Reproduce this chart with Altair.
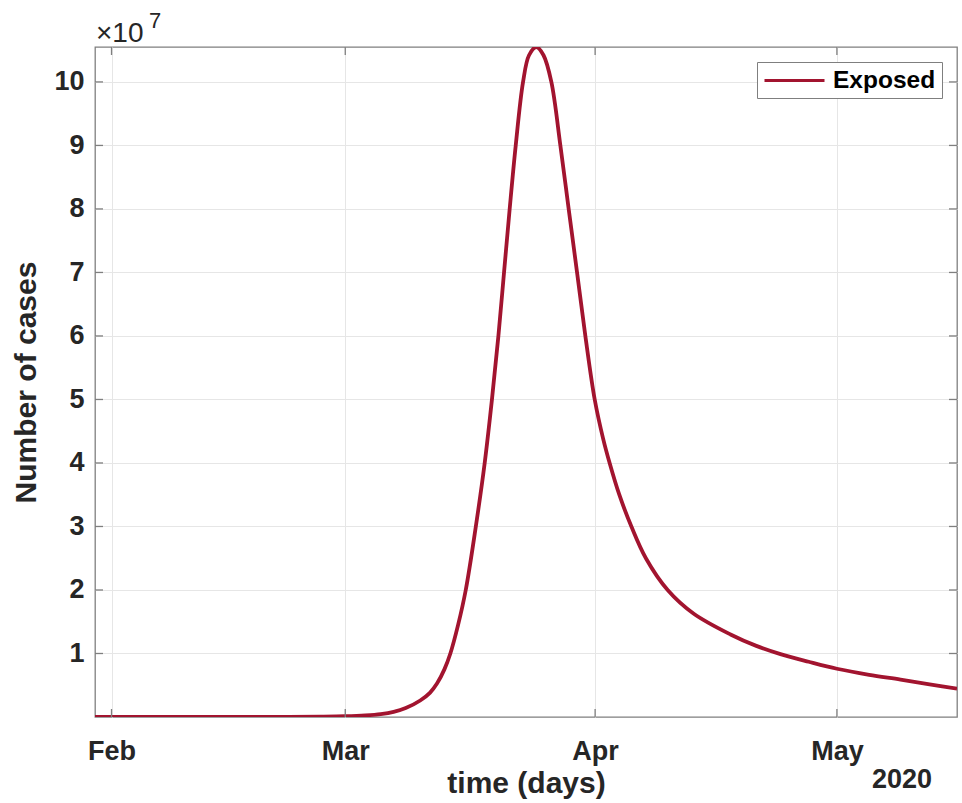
import altair as alt
import pandas as pd

# ---- data (days since 2020-02-01, Exposed in units of 1e7) ----
days_since_feb1 = [-2.05, 5, 15, 22, 26, 29, 31.5, 33.4, 35.0, 36.5, 38.3, 39.5, 40.4, 41.3,
                   42.04, 43.0, 43.95, 45.2, 46.3, 47.2, 48.0, 48.7, 49.4, 50.15, 51.06,
                   51.8, 52.71, 53.6, 54.57, 55.69, 56.72, 57.76, 58.79, 59.95, 61.0, 61.8,
                   63.0, 64.5, 66.3, 69.0, 72.2, 76.8, 80.0, 83.0, 86.5, 90.0, 94.0, 97.9,
                   101.5, 104.9]
exposed_1e7 = [0.0, 0.0005, 0.001, 0.003, 0.006, 0.012, 0.025, 0.045, 0.08, 0.14, 0.26, 0.38,
               0.53, 0.75, 1.0, 1.45, 2.0, 3.0, 4.0, 5.0, 6.0, 7.0, 8.0, 9.0, 10.0, 10.42,
               10.55, 10.42, 10.0, 9.0, 8.0, 7.0, 6.0, 5.0, 4.38, 4.0,
               3.5, 3.0, 2.5, 2.0, 1.63, 1.30, 1.12, 0.99, 0.87, 0.76, 0.665, 0.59,
               0.515, 0.445]
series_name = "Exposed"
month_ticks = ["2020-02-01", "2020-03-01", "2020-04-01", "2020-05-01"]
y_ticks_1e7 = [1, 2, 3, 4, 5, 6, 7, 8, 9, 10]
y_max_1e7 = 10.55
exponent_base = "×10"
exponent_power = "7"
year_label = "2020"

LINE_COLOR = "#A2142F"
BOX = "#7f7f7f"
FONT = "Liberation Sans"
W, H = 862, 670

base = pd.Timestamp("2020-02-01")
df = pd.DataFrame({
    "date": [(base + pd.to_timedelta(d, unit="D")).strftime("%Y-%m-%dT%H:%M:%S") for d in days_since_feb1],
    "cases": [v * 1e7 for v in exposed_1e7],
    "series": [series_name] * len(days_since_feb1),
})
ticks_x = pd.DataFrame({"date": [m + "T00:00:00" for m in month_ticks]})
ticks_y = pd.DataFrame({"cases": [v * 1e7 for v in y_ticks_1e7]})

x_scale = alt.Scale(domain=[alt.DateTime(year=2020, month=1, date=29, hours=22, minutes=48),
                            alt.DateTime(year=2020, month=5, date=15, hours=21, minutes=36)])
y_scale = alt.Scale(domain=[0, y_max_1e7 * 1e7], nice=False, zero=False)

x_axis = alt.Axis(
    values=[alt.DateTime(year=2020, month=int(m[5:7]), date=1) for m in month_ticks],
    format="%b", labelFontSize=27, labelFontWeight="bold", labelFont=FONT, labelColor="#262626",
    tickSize=0, labelPadding=21, domain=False, grid=True, gridColor="#e6e6e6", gridWidth=1,
    title="time (days)", titleFontSize=30, titleFontWeight="bold", titleFont=FONT,
    titleColor="#262626", titlePadding=4, labelFlush=False,
)
y_axis = alt.Axis(
    values=[v * 1e7 for v in y_ticks_1e7],
    labelExpr="format(datum.value / 10000000, 'd')",
    labelFontSize=27, labelFontWeight="bold", labelFont=FONT, labelColor="#262626",
    tickSize=0, labelPadding=11, domain=False, grid=True, gridColor="#e6e6e6", gridWidth=1,
    title="Number of cases", titleFontSize=30, titleFontWeight="bold", titleFont=FONT,
    titleColor="#262626", titlePadding=12,
)

line = alt.Chart(df).mark_line(strokeWidth=3.8, interpolate="catmull-rom", clip=True).encode(
    x=alt.X("date:T", scale=x_scale, axis=x_axis),
    y=alt.Y("cases:Q", scale=y_scale, axis=y_axis),
    color=alt.Color("series:N", scale=alt.Scale(domain=[series_name], range=[LINE_COLOR]),
                    legend=alt.Legend(orient="top-right", offset=15, title=None,
                                      symbolType="M-1,0H4.4545", symbolSize=484, symbolStrokeWidth=3,
                                      labelFontSize=24.5, labelFontWeight="bold", labelFont=FONT,
                                      labelColor="#000000", labelOffset=45, padding=6,
                                      strokeColor=BOX, fillColor="white")),
)

tick_style = dict(color=BOX, strokeWidth=1.3)
xt_bottom = alt.Chart(ticks_x).mark_rule(**tick_style).encode(
    x="date:T", y=alt.value(H), y2=alt.value(H - 8))
xt_top = alt.Chart(ticks_x).mark_rule(**tick_style).encode(
    x="date:T", y=alt.value(0), y2=alt.value(8))
yt_left = alt.Chart(ticks_y).mark_rule(**tick_style).encode(
    y="cases:Q", x=alt.value(0), x2=alt.value(8))
yt_right = alt.Chart(ticks_y).mark_rule(**tick_style).encode(
    y="cases:Q", x=alt.value(W), x2=alt.value(W - 8))

exp_base = alt.Chart(pd.DataFrame({"t": [exponent_base]})).mark_text(
    align="left", baseline="alphabetic", fontSize=28, font=FONT, color="#262626"
).encode(text="t:N", x=alt.value(1), y=alt.value(-5))
exp_pow = alt.Chart(pd.DataFrame({"t": [exponent_power]})).mark_text(
    align="left", baseline="alphabetic", fontSize=22, font=FONT, color="#262626"
).encode(text="t:N", x=alt.value(54), y=alt.value(-19))
year = alt.Chart(pd.DataFrame({"t": [year_label]})).mark_text(
    align="right", baseline="alphabetic", fontSize=27, fontWeight="bold", font=FONT, color="#262626"
).encode(text="t:N", x=alt.value(837), y=alt.value(741))

chart = alt.layer(line, xt_bottom, xt_top, yt_left, yt_right, exp_base, exp_pow, year).properties(
    width=W, height=H, autosize="none",
    padding={"left": 95, "top": 47, "right": 5, "bottom": 86},
    background="white",
).configure_view(stroke=BOX, strokeWidth=1.3)

chart.save("out.html", embed_options={"renderer": "svg", "actions": False})
